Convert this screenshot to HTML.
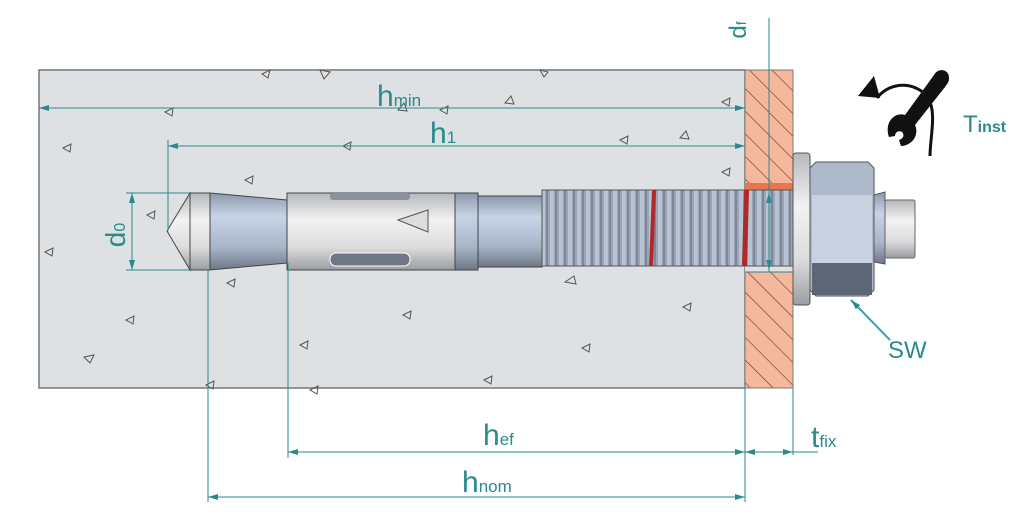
<!DOCTYPE html>
<html><head><meta charset="utf-8"><style>
html,body{margin:0;padding:0;background:#fff;width:1029px;height:529px;overflow:hidden}
svg{display:block}
text{font-family:"Liberation Sans Narrow","Liberation Sans",sans-serif;fill:#2a8a8c}
</style></head><body>
<svg width="1029" height="529" viewBox="0 0 1029 529" xmlns="http://www.w3.org/2000/svg">
<defs>
<linearGradient id="blue" x1="0" y1="0" x2="0" y2="1">
<stop offset="0" stop-color="#8d99aa"/><stop offset="0.3" stop-color="#c7d3e6"/><stop offset="0.7" stop-color="#a9b6c9"/><stop offset="1" stop-color="#6d7685"/></linearGradient>
<linearGradient id="sil" x1="0" y1="0" x2="0" y2="1">
<stop offset="0" stop-color="#b5b8bc"/><stop offset="0.35" stop-color="#f2f2f2"/><stop offset="0.7" stop-color="#dcdcdc"/><stop offset="1" stop-color="#9a9da2"/></linearGradient>
<pattern id="thr" width="9" height="80" patternUnits="userSpaceOnUse">
<rect width="9" height="80" fill="#9aa6b8"/><rect x="1" width="4" height="80" fill="#b8c3d4"/><rect x="6" width="2" height="80" fill="#7d8798"/></pattern>
<pattern id="hatch" width="16" height="16" patternUnits="userSpaceOnUse" patternTransform="rotate(-45)">
<rect width="16" height="16" fill="#f5b89c"/><line x1="0" y1="0" x2="0" y2="16" stroke="#5a3a30" stroke-width="1.2"/></pattern>
<marker id="a" viewBox="0 0 10 6" refX="10" refY="3" markerWidth="16" markerHeight="6" orient="auto-start-reverse" markerUnits="userSpaceOnUse"><path d="M0,0L10,3L0,6z" fill="#2a8a8c"/></marker>
</defs>
<rect x="39" y="70" width="706" height="318" fill="#dde1e3" stroke="#777" stroke-width="1.5"/>
<g fill="none" stroke="#555" stroke-width="1">
<path d="M262,74l8,-4l-2,8z"/><path d="M320,70l10,2l-6,7z"/><path d="M165,112l8,-4l-1,8z"/><path d="M63,148l8,-4l-1,8z"/><path d="M245,180l8,-4l-1,8z"/><path d="M147,215l8,-4l-1,8z"/><path d="M45,252l8,-4l-1,8z"/><path d="M227,283l8,-4l-1,8z"/><path d="M126,320l8,-4l-1,8z"/><path d="M84,357l10,-2l-4,8z"/><path d="M206,385l8,-4l-1,8z"/><path d="M343,146l8,-4l-1,8z"/><path d="M398,110l6,-7l3,8z"/><path d="M440,110l8,-4l-1,8z"/><path d="M505,103l6,-7l3,8z"/><path d="M680,138l6,-7l3,8z"/><path d="M722,102l8,-4l-1,8z"/><path d="M620,140l8,-4l-1,8z"/><path d="M722,172l8,-4l-1,8z"/><path d="M565,282l9,-6l2,8z"/><path d="M405,265l8,-4l-1,8z"/><path d="M403,315l8,-4l-1,8z"/><path d="M300,345l8,-4l-1,8z"/><path d="M582,348l8,-4l-1,8z"/><path d="M484,380l8,-4l-1,8z"/><path d="M683,307l8,-4l-1,8z"/><path d="M540,70l8,2l-4,5z"/><path d="M310,390l8,-4l-1,8z"/>
</g>
<rect x="745" y="70" width="48" height="318" fill="url(#hatch)" stroke="#777"/>
<rect x="745" y="183" width="48" height="89" fill="#dde1e3"/>
<rect x="745" y="183" width="48" height="10" fill="#e8764e"/>
<path d="M167,231L190,193L190,270z" fill="url(#sil)" stroke="#444"/>
<rect x="190" y="193" width="20" height="77" fill="url(#sil)" stroke="#444"/>
<path d="M210,193L287,200L287,263L210,270z" fill="url(#blue)" stroke="#444"/>
<rect x="287" y="193" width="168" height="77" fill="url(#sil)" stroke="#444"/>
<rect x="330" y="193" width="80" height="7" rx="3" fill="#8a92a0"/>
<rect x="330" y="253" width="80" height="13" rx="6" fill="#6f7786" stroke="#fff"/>
<path d="M398,220L428,210L428,232z" fill="#ddd" stroke="#555"/>
<rect x="455" y="193" width="23" height="77" fill="url(#blue)" stroke="#444"/>
<rect x="478" y="196" width="64" height="71" fill="url(#blue)" stroke="#444"/>
<rect x="542" y="190" width="251" height="76" fill="url(#thr)" stroke="#555"/>
<path d="M652,190l4,0l-3,76l-4,0z" fill="#b0282a"/><path d="M744,190l5,0l-2,76l-5,0z" fill="#b0282a"/>
<rect x="793" y="153" width="17" height="152" rx="3" fill="url(#sil)" stroke="#555"/>
<path d="M810,168L816,162L868,162L874,168L874,290L868,296L816,296L810,290z" fill="#aeb9cb" stroke="#555"/>
<rect x="812" y="195" width="60" height="68" fill="#c7d1e0"/>
<rect x="812" y="263" width="60" height="32" fill="#5d6677"/>
<path d="M874,195L885,192L885,264L874,262z" fill="url(#blue)" stroke="#555"/>
<rect x="885" y="200" width="30" height="58" rx="2" fill="url(#sil)" stroke="#666"/>
<g stroke="#2a8a8c" stroke-width="1" fill="none">
<line x1="39" y1="108" x2="745" y2="108" marker-start="url(#a)" marker-end="url(#a)"/>
<line x1="168" y1="146" x2="745" y2="146" marker-start="url(#a)" marker-end="url(#a)"/>
<line x1="168" y1="140" x2="168" y2="231"/>
<line x1="126" y1="193" x2="190" y2="193"/><line x1="126" y1="270" x2="190" y2="270"/>
<line x1="132" y1="193" x2="132" y2="270" marker-start="url(#a)" marker-end="url(#a)"/>
<line x1="208" y1="270" x2="208" y2="502"/><line x1="288" y1="263" x2="288" y2="458"/>
<line x1="745" y1="388" x2="745" y2="502"/><line x1="793" y1="388" x2="793" y2="455"/>
<line x1="288" y1="452" x2="745" y2="452" marker-start="url(#a)" marker-end="url(#a)"/>
<line x1="745" y1="452" x2="793" y2="452" marker-start="url(#a)" marker-end="url(#a)"/>
<line x1="793" y1="452" x2="818" y2="452"/>
<line x1="208" y1="497" x2="745" y2="497" marker-start="url(#a)" marker-end="url(#a)"/>
<line x1="769" y1="18" x2="769" y2="272"/>
<line x1="769" y1="193" x2="769" y2="270" marker-start="url(#a)" marker-end="url(#a)"/>
<line x1="745" y1="272" x2="793" y2="272"/>
<line x1="890" y1="340" x2="851" y2="300" stroke="#3aa0b8" stroke-width="2" marker-end="url(#a)"/>
</g>
<!-- wrench -->
<g fill="#111">
<path d="M934,75c4,-8 16,-6 15,4c0,3 -2,5 -4,8l-30,38c3,6 1,14 -5,18c-3,2 -6,3 -9,3l-2,-6c4,-1 6,-5 3,-8c-3,-2 -7,0 -7,4l-6,1c-3,-8 -1,-17 6,-21c3,-2 7,-2 10,-1z"/>
</g>
<path d="M877,98c14,-18 40,-16 51,0c9,14 2,40 2,58" stroke="#111" stroke-width="3" fill="none"/>
<path d="M858,96l16,-20l6,22z" fill="#111"/>
<text x="377" y="106" font-size="30">h<tspan font-size="17">min</tspan></text>
<text x="430" y="143" font-size="30">h<tspan font-size="17">1</tspan></text>
<text x="125" y="235" font-size="28" transform="rotate(-90 125 235)" text-anchor="middle">d<tspan font-size="16">0</tspan></text>
<text x="746" y="30" font-size="24" transform="rotate(-90 746 30)" text-anchor="middle">d<tspan font-size="14">f</tspan></text>
<text x="483" y="445" font-size="30">h<tspan font-size="17">ef</tspan></text>
<text x="462" y="492" font-size="30">h<tspan font-size="17">nom</tspan></text>
<text x="811" y="447" font-size="30">t<tspan font-size="17">fix</tspan></text>
<text x="888" y="358" font-size="24">SW</text>
<text x="963" y="132" font-size="24">T<tspan font-size="16" font-weight="bold">inst</tspan></text>
</svg>
</body></html>
